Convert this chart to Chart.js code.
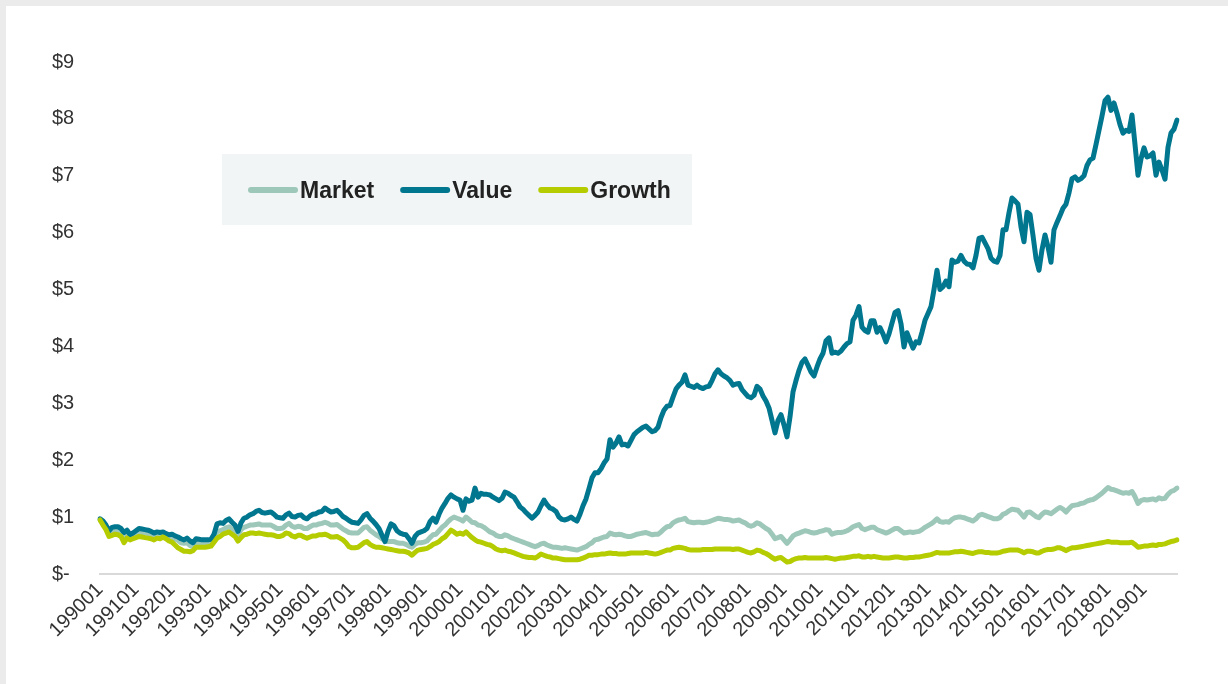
<!DOCTYPE html>
<html>
<head>
<meta charset="utf-8">
<script src="https://cdn.jsdelivr.net/npm/chart.js@4.4.1/dist/chart.umd.min.js"></script>
<style>
  html, body { margin: 0; padding: 0; width: 1228px; height: 684px; overflow: hidden; background: #ebebeb; }
  #wrap { position: absolute; left: 6px; top: 6px; width: 1222px; height: 678px; background: #ffffff; }
  canvas { display: block; }
</style>
</head>
<body>
<div id="wrap"><canvas id="chart" width="1222" height="678"></canvas></div>
<script>
// ---------- categories ----------
const years = [1990,1991,1992,1993,1994,1995,1996,1997,1998,1999,2000,2001,2002,2003,2004,
               2005,2006,2007,2008,2009,2010,2011,2012,2013,2014,2015,2016,2017,2018,2019];
const monthCodes = ['01','02','03','04','05','06','07','08','09','10','11','12'];
const categories = [];
years.forEach(y => monthCodes.forEach(m => categories.push(String(y) + m)));

// ---------- series (growth of $1) ----------
const seriesNames = ['Market', 'Value', 'Growth'];

const marketValues = [
  0.95,0.90,0.80,0.70,0.76,0.77,0.77,0.74,0.66,0.71,0.63,0.67,
  0.70,0.74,0.73,0.72,0.71,0.69,0.67,0.69,0.68,0.70,0.66,0.64,
  0.65,0.62,0.59,0.55,0.54,0.55,0.50,0.48,0.55,0.55,0.55,0.55,
  0.56,0.57,0.65,0.74,0.76,0.78,0.81,0.83,0.79,0.75,0.68,0.78,
  0.82,0.84,0.86,0.86,0.87,0.88,0.86,0.86,0.86,0.86,0.83,0.80,
  0.80,0.81,0.86,0.89,0.84,0.82,0.84,0.83,0.80,0.80,0.83,0.86,
  0.86,0.88,0.89,0.91,0.89,0.86,0.86,0.87,0.83,0.79,0.76,0.73,
  0.72,0.72,0.72,0.77,0.82,0.83,0.77,0.73,0.69,0.66,0.62,0.59,
  0.57,0.57,0.57,0.55,0.54,0.54,0.52,0.49,0.47,0.52,0.55,0.55,
  0.56,0.58,0.64,0.69,0.70,0.76,0.82,0.86,0.92,0.97,1.00,0.98,
  0.96,0.93,1.00,0.96,0.91,0.90,0.86,0.85,0.82,0.78,0.74,0.72,
  0.68,0.66,0.66,0.69,0.67,0.64,0.62,0.60,0.58,0.56,0.54,0.52,
  0.50,0.48,0.50,0.53,0.54,0.51,0.49,0.47,0.47,0.46,0.45,0.46,
  0.45,0.44,0.43,0.42,0.44,0.46,0.48,0.52,0.55,0.60,0.61,0.63,
  0.65,0.66,0.72,0.70,0.69,0.70,0.69,0.67,0.66,0.66,0.68,0.70,
  0.71,0.72,0.73,0.71,0.69,0.70,0.70,0.74,0.79,0.83,0.84,0.90,
  0.93,0.95,0.96,0.98,0.92,0.91,0.90,0.91,0.91,0.90,0.91,0.92,
  0.94,0.96,0.98,0.97,0.96,0.96,0.95,0.93,0.94,0.95,0.92,0.90,
  0.86,0.84,0.86,0.90,0.88,0.84,0.80,0.77,0.70,0.62,0.64,0.66,
  0.60,0.54,0.60,0.67,0.70,0.72,0.74,0.76,0.75,0.73,0.72,0.73,
  0.75,0.76,0.78,0.77,0.70,0.72,0.73,0.73,0.74,0.76,0.79,0.83,
  0.85,0.87,0.80,0.78,0.80,0.82,0.82,0.78,0.76,0.74,0.72,0.74,
  0.77,0.80,0.80,0.76,0.72,0.73,0.74,0.73,0.74,0.75,0.78,0.82,
  0.85,0.88,0.92,0.97,0.92,0.91,0.92,0.91,0.96,0.99,1.00,1.00,
  0.99,0.97,0.95,0.93,0.97,1.03,1.05,1.03,1.01,0.99,0.97,0.97,
  0.99,1.05,1.07,1.11,1.14,1.13,1.12,1.06,1.00,1.08,1.09,1.05,
  1.01,0.99,1.05,1.09,1.08,1.06,1.10,1.14,1.17,1.14,1.09,1.15,
  1.20,1.21,1.22,1.24,1.25,1.28,1.30,1.31,1.34,1.38,1.42,1.47,
  1.52,1.49,1.48,1.46,1.44,1.42,1.43,1.42,1.45,1.36,1.24,1.29,
  1.31,1.30,1.31,1.32,1.30,1.34,1.32,1.33,1.40,1.45,1.47,1.51
];

const valueValues = [
  0.97,0.93,0.86,0.76,0.82,0.83,0.83,0.80,0.73,0.77,0.69,0.72,
  0.76,0.80,0.79,0.78,0.77,0.75,0.72,0.74,0.73,0.74,0.71,0.69,
  0.70,0.67,0.65,0.62,0.60,0.63,0.58,0.55,0.62,0.61,0.60,0.60,
  0.60,0.61,0.70,0.88,0.90,0.89,0.94,0.97,0.91,0.86,0.75,0.90,
  0.98,1.00,1.04,1.06,1.10,1.12,1.08,1.07,1.08,1.09,1.05,1.00,
  0.99,0.98,1.04,1.07,1.01,1.00,1.03,1.04,0.99,0.97,1.02,1.05,
  1.06,1.09,1.10,1.16,1.12,1.09,1.10,1.12,1.07,1.01,0.98,0.94,
  0.91,0.90,0.89,0.95,1.03,1.06,0.98,0.93,0.87,0.80,0.68,0.57,
  0.75,0.88,0.85,0.76,0.72,0.70,0.69,0.62,0.54,0.66,0.72,0.74,
  0.76,0.80,0.92,0.98,0.91,1.05,1.16,1.24,1.33,1.39,1.35,1.32,
  1.30,1.12,1.32,1.28,1.30,1.51,1.35,1.42,1.40,1.40,1.39,1.35,
  1.32,1.29,1.33,1.44,1.42,1.38,1.35,1.27,1.18,1.14,1.08,1.03,
  0.98,1.03,1.09,1.20,1.30,1.22,1.16,1.14,1.10,1.00,0.96,0.95,
  0.97,1.00,0.96,0.93,1.05,1.20,1.32,1.50,1.69,1.78,1.78,1.85,
  1.95,2.02,2.36,2.23,2.30,2.41,2.27,2.28,2.25,2.35,2.45,2.50,
  2.54,2.58,2.60,2.55,2.50,2.52,2.58,2.75,2.88,2.95,2.96,3.11,
  3.25,3.32,3.37,3.50,3.32,3.30,3.28,3.32,3.28,3.26,3.29,3.30,
  3.40,3.52,3.59,3.52,3.48,3.45,3.40,3.32,3.34,3.35,3.24,3.18,
  3.12,3.10,3.14,3.30,3.25,3.13,3.04,2.92,2.70,2.48,2.70,2.80,
  2.62,2.41,2.76,3.20,3.40,3.58,3.72,3.78,3.67,3.55,3.48,3.64,
  3.78,3.88,4.10,4.15,3.88,3.90,3.88,3.92,3.99,4.05,4.08,4.46,
  4.55,4.70,4.34,4.28,4.25,4.45,4.45,4.25,4.33,4.22,4.08,4.22,
  4.41,4.60,4.63,4.40,3.99,4.24,4.10,3.97,4.08,4.06,4.25,4.46,
  4.58,4.70,5.00,5.34,5.00,5.05,5.15,5.05,5.52,5.48,5.50,5.60,
  5.50,5.45,5.44,5.38,5.60,5.90,5.92,5.82,5.72,5.55,5.50,5.48,
  5.60,6.05,6.05,6.35,6.61,6.56,6.50,6.10,5.84,6.36,6.32,5.95,
  5.55,5.34,5.70,5.96,5.75,5.48,6.05,6.18,6.30,6.43,6.50,6.70,
  6.95,6.98,6.92,6.95,7.00,7.18,7.28,7.31,7.55,7.80,8.05,8.32,
  8.38,8.15,8.28,8.10,7.90,7.75,7.80,7.78,8.07,7.55,7.01,7.30,
  7.49,7.33,7.35,7.40,7.01,7.24,7.10,6.94,7.50,7.75,7.82,7.98
];

const growthValues = [
  0.95,0.86,0.78,0.66,0.68,0.70,0.69,0.66,0.55,0.63,0.60,0.62,
  0.64,0.66,0.65,0.64,0.63,0.62,0.60,0.63,0.62,0.65,0.62,0.58,
  0.56,0.51,0.46,0.43,0.40,0.40,0.39,0.41,0.47,0.47,0.47,0.47,
  0.48,0.49,0.56,0.63,0.66,0.70,0.72,0.74,0.70,0.66,0.58,0.64,
  0.69,0.70,0.72,0.72,0.71,0.72,0.71,0.70,0.69,0.69,0.68,0.66,
  0.66,0.68,0.72,0.71,0.67,0.65,0.68,0.68,0.65,0.63,0.65,0.67,
  0.67,0.69,0.69,0.70,0.68,0.65,0.65,0.66,0.63,0.60,0.55,0.48,
  0.46,0.46,0.47,0.51,0.55,0.57,0.52,0.49,0.47,0.47,0.46,0.45,
  0.44,0.43,0.42,0.41,0.40,0.40,0.39,0.37,0.33,0.38,0.42,0.43,
  0.44,0.45,0.48,0.52,0.54,0.57,0.62,0.65,0.71,0.77,0.74,0.70,
  0.72,0.70,0.74,0.69,0.64,0.60,0.57,0.56,0.54,0.52,0.51,0.48,
  0.44,0.42,0.41,0.42,0.40,0.39,0.37,0.35,0.33,0.31,0.30,0.29,
  0.29,0.28,0.31,0.35,0.33,0.31,0.30,0.28,0.28,0.27,0.26,0.25,
  0.25,0.25,0.25,0.25,0.26,0.28,0.30,0.33,0.33,0.34,0.34,0.35,
  0.35,0.36,0.37,0.36,0.36,0.35,0.35,0.35,0.36,0.37,0.37,0.37,
  0.37,0.37,0.38,0.37,0.36,0.35,0.36,0.38,0.40,0.42,0.42,0.45,
  0.46,0.47,0.46,0.45,0.43,0.42,0.42,0.42,0.42,0.43,0.43,0.43,
  0.43,0.44,0.44,0.44,0.44,0.44,0.44,0.43,0.44,0.44,0.42,0.40,
  0.38,0.37,0.39,0.42,0.41,0.38,0.36,0.33,0.29,0.26,0.28,0.29,
  0.25,0.21,0.22,0.25,0.27,0.28,0.28,0.29,0.28,0.28,0.28,0.28,
  0.28,0.28,0.29,0.28,0.27,0.26,0.27,0.28,0.28,0.29,0.30,0.31,
  0.31,0.32,0.30,0.30,0.31,0.30,0.31,0.30,0.29,0.28,0.28,0.28,
  0.29,0.30,0.30,0.29,0.28,0.28,0.29,0.29,0.30,0.30,0.31,0.32,
  0.33,0.34,0.36,0.38,0.37,0.37,0.37,0.37,0.38,0.39,0.39,0.40,
  0.39,0.38,0.37,0.36,0.38,0.39,0.39,0.38,0.38,0.37,0.37,0.37,
  0.38,0.40,0.41,0.42,0.42,0.42,0.42,0.40,0.37,0.40,0.40,0.39,
  0.37,0.37,0.40,0.42,0.43,0.43,0.44,0.46,0.46,0.44,0.41,0.44,
  0.46,0.46,0.47,0.48,0.49,0.50,0.51,0.52,0.53,0.54,0.55,0.56,
  0.57,0.56,0.56,0.56,0.55,0.55,0.55,0.55,0.56,0.52,0.47,0.48,
  0.49,0.49,0.50,0.51,0.50,0.52,0.52,0.53,0.55,0.57,0.58,0.60
];

// ---------- tick labels ----------
const yTickLabels = ['$-', '$1', '$2', '$3', '$4', '$5', '$6', '$7', '$8', '$9'];

// ---------- styling ----------
const COLORS = { Market: '#9dc7b9', Value: '#00768f', Growth: '#b4cc00' };
const TICK_FONT = { family: "'Liberation Sans', Arial, sans-serif", size: 20 };

const boxLegend = {
  id: 'boxLegend',
  afterDatasetsDraw(chart) {
    const ctx = chart.ctx;
    ctx.save();
    ctx.fillStyle = '#f1f5f5';
    ctx.fillRect(216, 148, 470, 71);
    ctx.font = "bold 23px 'Liberation Sans', Arial, sans-serif";
    ctx.textBaseline = 'alphabetic';
    ctx.textAlign = 'left';
    let x = 245;
    const yLine = 184;
    seriesNames.forEach(name => {
      ctx.strokeStyle = COLORS[name];
      ctx.lineWidth = 6;
      ctx.lineCap = 'round';
      ctx.beginPath();
      ctx.moveTo(x, yLine);
      ctx.lineTo(x + 44, yLine);
      ctx.stroke();
      x += 49;
      ctx.fillStyle = '#222222';
      ctx.fillText(name, x, 192);
      x += ctx.measureText(name).width + 29;
    });
    ctx.restore();
  }
};

const dataMap = { Market: marketValues, Value: valueValues, Growth: growthValues };
const orderMap = { Market: 3, Value: 2, Growth: 1 };

new Chart(document.getElementById('chart'), {
  type: 'line',
  data: {
    labels: categories,
    datasets: seriesNames.map(name => ({
      label: name,
      data: dataMap[name],
      borderColor: COLORS[name],
      backgroundColor: COLORS[name],
      borderWidth: 5,
      pointRadius: 0,
      pointHoverRadius: 0,
      tension: 0,
      fill: false,
      borderJoinStyle: 'round',
      borderCapStyle: 'round',
      order: orderMap[name]
    }))
  },
  options: {
    responsive: false,
    animation: false,
    events: [],
    layout: { padding: { left: 46, right: 51, top: 56, bottom: 0 } },
    plugins: { legend: { display: false }, tooltip: { enabled: false }, title: { display: false } },
    scales: {
      x: {
        type: 'category',
        offset: false,
        grid: { display: false, drawTicks: false },
        border: { display: true, color: '#d9d9d9', width: 2 },
        ticks: {
          autoSkip: false,
          minRotation: 45,
          maxRotation: 45,
          padding: 4,
          color: '#333333',
          font: TICK_FONT,
          callback: function (value, index) {
            const lab = categories[index];
            return lab.endsWith('01') ? lab : null;
          }
        },
        afterFit(scale) { scale.height = 110; }
      },
      y: {
        min: 0,
        max: 9,
        grid: { display: false, drawTicks: false },
        border: { display: false },
        ticks: {
          stepSize: 1,
          crossAlign: 'far',
          color: '#333333',
          font: TICK_FONT,
          callback: function (value) { return yTickLabels[Math.round(value)]; }
        },
        afterFit(scale) { scale.width = 48; }
      }
    }
  },
  plugins: [boxLegend]
});
</script>
</body>
</html>
